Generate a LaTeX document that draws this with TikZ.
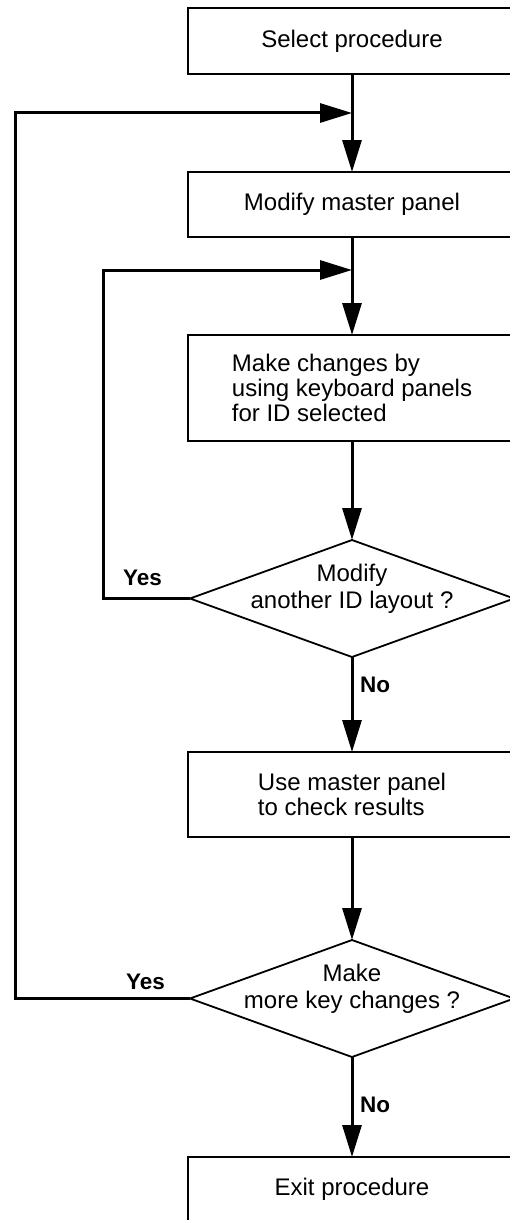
\documentclass[tikz,border=0pt]{standalone}
\usepackage{fontspec}
\setmainfont{Liberation Sans}
\usetikzlibrary{arrows.meta,positioning,shapes.geometric}

\begin{document}
\begin{tikzpicture}
\tikzset{stepbox/.style={draw, line width=1.8pt, minimum width=328pt,
inner sep=0pt, outer sep=0pt, align=left,
font=\fontsize{24}{25}\selectfont}}
\tikzset{decision/.style={draw, diamond, line width=1.8pt,
minimum width=324pt, minimum height=117pt, inner sep=0pt, outer sep=0pt}}
\tikzset{question/.style={align=center, inner sep=0pt,
font=\fontsize{24}{27}\selectfont}}
\tikzset{answer/.style={inner sep=0pt, font=\fontsize{22.5}{25}\selectfont\bfseries}}
\tikzset{flow/.style={line width=3pt, -{Triangle[length=32pt,width=19pt]}}}
\useasboundingbox (0,0) rectangle (510pt,-1220pt);
\clip (0,0) rectangle (510pt,-1220pt);
% boxes and decisions
\node[stepbox, minimum height=66pt] (selproc) at (352pt,-41pt) {Select procedure};
\node[stepbox, minimum height=65pt, below=98pt of selproc] (modmaster) {Modify master panel};
\node[stepbox, minimum height=106pt, below=98pt of modmaster] (changes)
{Make changes by\\using keyboard panels\\for ID selected};
\node[decision, below=99pt of changes] (anotherid) {};
\node[question] (anotheridq) at ([yshift=10pt]anotherid.center) {Modify\\another ID layout ?};
\node[stepbox, minimum height=85pt, below=95pt of anotherid] (usemaster)
{Use master panel\\to check results};
\node[decision, below=103pt of usemaster] (morekeys) {};
\node[question] (morekeysq) at ([yshift=10pt]morekeys.center) {Make\\more key changes ?};
\node[stepbox, minimum height=65pt, below=100pt of morekeys] (exitproc) {Exit procedure};
% answers
\node[answer, above left=13pt and 28pt of anotherid.west] (yesid) {Yes};
\node[answer, below right=20pt and 8pt of anotherid.south] (noid) {No};
\node[answer, above left=9pt and 25pt of morekeys.west] (yeskeys) {Yes};
\node[answer, below right=40pt and 8pt of morekeys.south] (nokeys) {No};
% join points
\coordinate[below=39pt of selproc.south] (joinA);
\coordinate[below=33pt of modmaster.south] (joinB);
% connectors
\draw[flow] (selproc.south) -- (modmaster.north);
\draw[flow] (modmaster.south) -- (changes.north);
\draw[flow] (changes.south) -- (anotherid.north);
\draw[flow] (anotherid.south) -- (usemaster.north);
\draw[flow] (usemaster.south) -- (morekeys.north);
\draw[flow] (morekeys.south) -- (exitproc.north);
\draw[flow] (anotherid.west) -- ++(-87pt,0) |- (joinB);
\draw[flow] (morekeys.west) -- ++(-175pt,0) |- (joinA);
\end{tikzpicture}
\end{document}
